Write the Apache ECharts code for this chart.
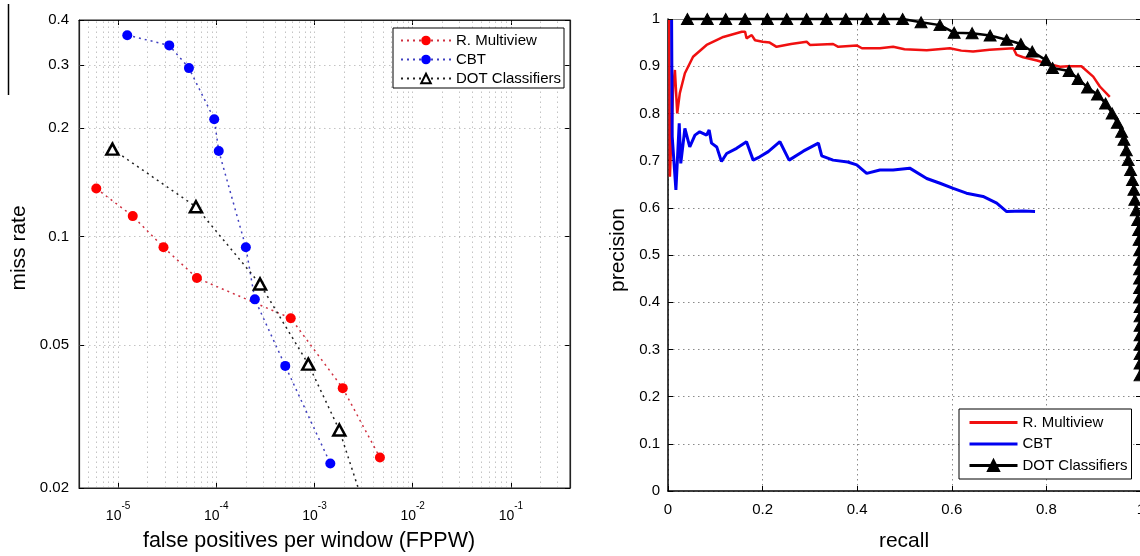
<!DOCTYPE html>
<html><head><meta charset="utf-8">
<script src="https://cdn.jsdelivr.net/npm/echarts@6/dist/echarts.min.js"></script>
<style>html,body{margin:0;padding:0;background:#fff}#c{width:1140px;height:556px}</style>
</head><body><div id="c"></div>
<script>
const FONT = '"Liberation Sans", Arial, Helvetica, sans-serif';

// ---------- Left panel: miss rate vs FPPW (log-log) ----------
const fppwRM  = [6.0e-6, 1.41e-5, 2.9e-5, 6.35e-5, 5.73e-4, 1.94e-3, 4.64e-3];
const missRM  = [0.136, 0.114, 0.0934, 0.0767, 0.0593, 0.0379, 0.0243];
const fppwCBT = [1.24e-5, 3.32e-5, 5.27e-5, 9.53e-5, 1.06e-4, 2.0e-4, 2.47e-4, 5.04e-4, 1.45e-3];
const missCBT = [0.363, 0.340, 0.294, 0.212, 0.173, 0.0934, 0.0669, 0.0437, 0.0234];
const fppwDOT = [8.75e-6, 6.21e-5, 2.79e-4, 8.65e-4, 1.79e-3, 3.06e-3];
const missDOT = [0.175, 0.121, 0.0738, 0.0442, 0.029, 0.0185];
const xTicksFPPW = [1e-5, 1e-4, 1e-3, 1e-2, 1e-1];
const yTicksMiss = [0.02, 0.05, 0.1, 0.2, 0.3, 0.4];
const decades = [1e-6, 1e-5, 1e-4, 1e-3, 1e-2, 1e-1];
const minorMult = [2, 3, 4, 5, 6, 7, 8, 9];
const fppwRange = [4e-6, 0.4];
const missRange = [0.02, 0.4];

// ---------- Right panel: precision vs recall ----------
const recallRM = [0.0025,0.004,0.011,0.0146,0.0195,0.025,0.0357,0.053,0.0816,0.117,0.156,0.163,0.166,0.177,0.184,0.200,0.215,0.2295,0.26,0.293,0.30,0.349,0.36,0.399,0.41,0.448,0.476,0.50,0.547,0.596,0.62,0.645,0.68,0.730,0.737,0.751,0.78,0.800,0.829,0.846,0.874,0.899,0.913,0.934];
const precRM   = [0.998,0.666,0.857,0.892,0.800,0.843,0.885,0.920,0.945,0.962,0.973,0.973,0.959,0.966,0.955,0.952,0.950,0.941,0.947,0.952,0.945,0.947,0.941,0.944,0.938,0.938,0.941,0.936,0.934,0.938,0.933,0.931,0.935,0.938,0.924,0.919,0.912,0.906,0.899,0.900,0.900,0.878,0.857,0.835];
const recallCBT = [0.0076,0.0089,0.0167,0.0237,0.027,0.0357,0.046,0.057,0.067,0.0816,0.087,0.092,0.103,0.113,0.124,0.145,0.166,0.180,0.194,0.212,0.2366,0.256,0.286,0.318,0.325,0.349,0.38,0.399,0.420,0.448,0.476,0.511,0.547,0.575,0.603,0.631,0.666,0.695,0.716,0.751,0.776];
const precCBT   = [0.998,0.751,0.638,0.779,0.694,0.768,0.729,0.754,0.761,0.754,0.765,0.737,0.729,0.698,0.715,0.726,0.740,0.701,0.708,0.719,0.740,0.701,0.720,0.737,0.710,0.701,0.697,0.691,0.673,0.680,0.680,0.684,0.662,0.652,0.641,0.631,0.624,0.610,0.592,0.593,0.592];
const recallDOT = [0.041,0.083,0.122,0.163,0.210,0.251,0.293,0.335,0.376,0.420,0.456,0.496,0.535,0.575,0.605,0.643,0.681,0.716,0.746,0.770,0.799,0.813,0.848,0.867,0.887,0.908,0.925,0.939,0.950,0.959,0.964,0.969,0.973,0.978,0.982,0.985,0.987,0.990,0.993,0.995,0.996,0.997,0.997,0.997,0.997,0.997,0.997,0.998,0.998,0.998,0.998,0.998,0.998,0.998,0.998];
const precDOT   = [1,1,1,1,1,1,1,1,1,1,1,1,0.993,0.987,0.971,0.970,0.965,0.956,0.947,0.931,0.913,0.896,0.890,0.873,0.855,0.840,0.821,0.800,0.780,0.761,0.744,0.722,0.701,0.680,0.659,0.638,0.617,0.595,0.574,0.553,0.532,0.51,0.49,0.47,0.45,0.43,0.41,0.39,0.37,0.35,0.33,0.31,0.29,0.27,0.245];

const labelMap = {L_RM:'R. Multiview', L_CBT:'CBT', L_DOT:'DOT Classifiers',
                  R_RM:'R. Multiview', R_CBT:'CBT', R_DOT:'DOT Classifiers'};

const zip = (a, b) => a.map((v, i) => [v, b[i]]);

const minorX = [];
decades.forEach(d => minorMult.forEach(m => { const v = d * m; if (v > 4.05e-6 && v < 0.399) minorX.push(v); }));
const gridLineStyle = {color: '#8a8a8a', width: 1, type: [1.5, 3.5]};
const leftGridLines = [];
minorX.concat(xTicksFPPW).forEach(v => leftGridLines.push({coords: [[v, missRange[0]], [v, missRange[1]]]}));
yTicksMiss.slice(1, -1).forEach(v => leftGridLines.push({coords: [[fppwRange[0], v], [fppwRange[1], v]]}));

const tickStyle = {color: '#000', width: 1};
const lblFont = {fontSize: 15, fontFamily: FONT, color: '#000'};

function logX(pos, showLabel) {
  return {
    type: 'log', logBase: 10, gridIndex: 0, position: pos, min: fppwRange[0], max: fppwRange[1],
    axisLine: {show: true, onZero: false, lineStyle: {color: '#222', width: 1.2}},
    axisTick: {show: true, inside: true, length: 5, customValues: xTicksFPPW, lineStyle: tickStyle},
    axisLabel: {show: showLabel, customValues: xTicksFPPW, margin: 13,
      formatter: v => '{b|10}{s|' + Math.round(Math.log10(v)) + '}',
      rich: {b: {fontSize: 14, fontFamily: FONT, color: '#000', lineHeight: 22, verticalAlign: 'bottom'},
             s: {fontSize: 10, fontFamily: FONT, color: '#000', lineHeight: 10, verticalAlign: 'top'}}},
    splitLine: {show: false}, minorTick: {show: false}, minorSplitLine: {show: false}
  };
}
function logY(pos, showLabel) {
  return {
    type: 'log', logBase: 10, gridIndex: 0, position: pos, min: missRange[0], max: missRange[1],
    axisLine: {show: true, onZero: false, lineStyle: {color: '#222', width: 1.2}},
    axisTick: {show: true, inside: true, length: 5, customValues: yTicksMiss, lineStyle: tickStyle},
    axisLabel: Object.assign({show: showLabel, customValues: yTicksMiss, margin: 10,
      formatter: v => String(+(+v).toPrecision(3))}, lblFont),
    splitLine: {show: false}
  };
}
function linX(pos, showLabel) {
  return {
    type: 'value', gridIndex: 1, position: pos, min: 0, max: 1, interval: 0.2,
    axisLine: {show: true, onZero: false, lineStyle: {color: pos === 'bottom' ? '#000' : '#888', width: pos === 'bottom' ? 1.5 : 1}},
    axisTick: {show: true, inside: true, length: 5, lineStyle: tickStyle},
    axisLabel: Object.assign({show: showLabel, margin: 11}, lblFont),
    splitLine: {show: pos === 'bottom', lineStyle: gridLineStyle}
  };
}
function linY(pos, showLabel) {
  return {
    type: 'value', gridIndex: 1, position: pos, min: 0, max: 1, interval: 0.1,
    axisLine: {show: true, onZero: false, lineStyle: {color: pos === 'left' ? '#000' : '#888', width: pos === 'left' ? 1.5 : 1}},
    axisTick: {show: true, inside: true, length: 5, lineStyle: tickStyle},
    axisLabel: Object.assign({show: showLabel, margin: 8}, lblFont),
    splitLine: {show: pos === 'left', lineStyle: gridLineStyle}
  };
}

const legendCommon = {
  orient: 'vertical', backgroundColor: '#fff', borderColor: '#000', borderWidth: 1,
  borderRadius: 0, selectedMode: false,
  textStyle: {fontSize: 15, fontFamily: FONT, color: '#000'},
  formatter: n => labelMap[n]
};

const option = {
  animation: false,
  backgroundColor: '#fff',
  grid: [
    {left: 79, top: 20, width: 491, height: 468, show: true, borderColor: '#222', borderWidth: 1,
      backgroundColor: 'transparent', containLabel: false, outerBoundsMode: 'none'},
    {left: 668, top: 19, width: 473, height: 472, show: false, containLabel: false, outerBoundsMode: 'none'}
  ],
  xAxis: [logX('bottom', true), logX('top', false), linX('bottom', true), linX('top', false)],
  yAxis: [logY('left', true), logY('right', false), linY('left', true), linY('right', false)],
  legend: [
    Object.assign({}, legendCommon, {left: 393, top: 28, padding: [5, 3, 2, 7], itemGap: 4,
      itemWidth: 50, itemHeight: 12, data: ['L_RM', 'L_CBT', 'L_DOT']}),
    Object.assign({}, legendCommon, {left: 959, top: 409, padding: [6, 4, 6, 9], itemGap: 6.5,
      itemWidth: 48, itemHeight: 14, lineStyle: {width: 3},
      data: [{name: 'R_RM', itemStyle: {opacity: 0}}, {name: 'R_CBT', itemStyle: {opacity: 0}}, 'R_DOT']})
  ],
  graphic: [
    {type: 'line', shape: {x1: 8.5, y1: 4, x2: 8.5, y2: 95}, style: {stroke: '#000', lineWidth: 1.5}},
    {type: 'text', x: 19, y: 248, rotation: Math.PI / 2,
      style: {text: 'miss rate', font: '21px ' + FONT, fill: '#000', align: 'center', verticalAlign: 'middle'}},
    {type: 'text', x: 309, y: 541,
      style: {text: 'false positives per window (FPPW)', font: '21.5px ' + FONT, fill: '#000', align: 'center', verticalAlign: 'middle'}},
    {type: 'text', x: 618, y: 250, rotation: Math.PI / 2,
      style: {text: 'precision', font: '21px ' + FONT, fill: '#000', align: 'center', verticalAlign: 'middle'}},
    {type: 'text', x: 904, y: 541,
      style: {text: 'recall', font: '21px ' + FONT, fill: '#000', align: 'center', verticalAlign: 'middle'}}
  ],
  series: [
    {type: 'lines', name: 'gridLines', coordinateSystem: 'cartesian2d', xAxisIndex: 0, yAxisIndex: 0,
      polyline: false, silent: true, z: 1, symbol: 'none', effect: {show: false},
      lineStyle: gridLineStyle, data: leftGridLines},
    {type: 'line', name: 'L_RM', xAxisIndex: 0, yAxisIndex: 0, data: zip(fppwRM, missRM),
      symbol: 'circle', symbolSize: 10, itemStyle: {color: '#ff0000'},
      lineStyle: {color: '#d03040', width: 1.5, type: [2, 4]}, z: 3},
    {type: 'line', name: 'L_CBT', xAxisIndex: 0, yAxisIndex: 0, data: zip(fppwCBT, missCBT),
      symbol: 'circle', symbolSize: 10, itemStyle: {color: '#0000ff'},
      lineStyle: {color: '#4040c0', width: 1.5, type: [2, 4]}, z: 3},
    {type: 'line', name: 'L_DOT', xAxisIndex: 0, yAxisIndex: 0,
      data: zip(fppwDOT, missDOT).map((p, i) => i === fppwDOT.length - 1 ? {value: p, symbol: 'none'} : p),
      symbol: 'triangle', symbolSize: [12, 11], itemStyle: {color: '#fff', borderColor: '#000', borderWidth: 2.5},
      lineStyle: {color: '#222', width: 1.5, type: [2, 4]}, z: 3},
    {type: 'line', name: 'R_RM', xAxisIndex: 2, yAxisIndex: 2, data: zip(recallRM, precRM),
      symbol: 'none', itemStyle: {color: '#f01010'}, lineStyle: {color: '#f01010', width: 2.5}, z: 3},
    {type: 'line', name: 'R_CBT', xAxisIndex: 2, yAxisIndex: 2, data: zip(recallCBT, precCBT),
      symbol: 'none', itemStyle: {color: '#0000f0'}, lineStyle: {color: '#0000f0', width: 3}, z: 3},
    {type: 'line', name: 'R_DOT', xAxisIndex: 2, yAxisIndex: 2, data: zip(recallDOT, precDOT),
      symbol: 'triangle', symbolSize: [12, 11], showAllSymbol: true, clip: false,
      itemStyle: {color: '#000', borderColor: '#000', borderWidth: 1},
      lineStyle: {color: '#000', width: 2.5}, z: 4}
  ]
};

const chart = echarts.init(document.getElementById('c'), null, {renderer: 'canvas'});
chart.setOption(option);
</script>
</body></html>
